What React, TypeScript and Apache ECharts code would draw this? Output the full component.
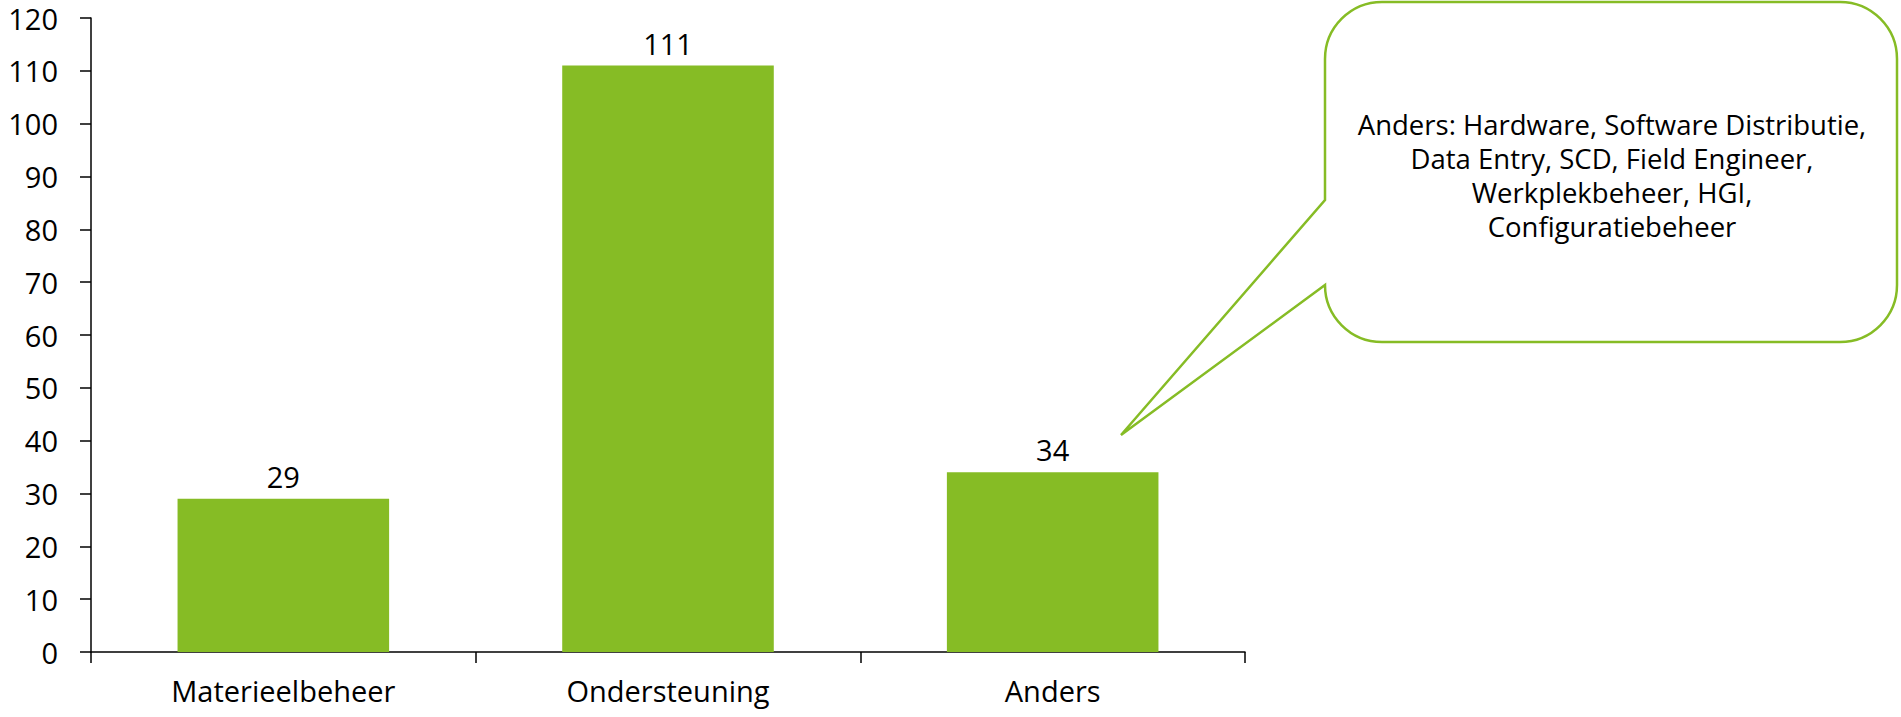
import React, { useEffect, useRef } from "react";
import * as echarts from "echarts";

const categories = ["Materieelbeheer", "Ondersteuning", "Anders"];
const values = [29, 111, 34];
const calloutLines = [
  "Anders: Hardware, Software Distributie,",
  "Data Entry, SCD, Field Engineer,",
  "Werkplekbeheer, HGI,",
  "Configuratiebeheer",
];

const GREEN = "#86BC25";
const FONT = "'Open Sans', 'Noto Sans', sans-serif";

const calloutPath =
  "M 1382 2 L 1840 2 A 57 57 0 0 1 1897 59 L 1897 285 A 57 57 0 0 1 1840 342 L 1382 342 A 57 57 0 0 1 1325 285 L 1121 435 L 1325 200 L 1325 59 A 57 57 0 0 1 1382 2 Z";

let registered = false;

export default function App() {
  const ref = useRef<HTMLDivElement>(null);
  useEffect(() => {
    if (!ref.current) return;
    if (!registered) {
      echarts.graphic.registerShape("callout", echarts.graphic.extendPath(calloutPath, {}));
      registered = true;
    }
    const chart = echarts.init(ref.current, null, { renderer: "svg" });
    chart.setOption({
      animation: false,
      backgroundColor: "#ffffff",
      grid: { left: 91, right: 656, top: 18, bottom: 65, containLabel: false },
      xAxis: {
        type: "category",
        data: categories,
        axisLine: { lineStyle: { color: "#000", width: 1.5 } },
        axisTick: { show: true, length: 11, alignWithLabel: false, lineStyle: { color: "#000", width: 1.5 } },
        axisLabel: { color: "#000", fontSize: 29, fontFamily: FONT, margin: 24 },
      },
      yAxis: {
        type: "value",
        min: 0,
        max: 120,
        interval: 10,
        splitLine: { show: false },
        axisLine: { show: true, lineStyle: { color: "#000", width: 1.5 } },
        axisTick: { show: true, length: 11, lineStyle: { color: "#000", width: 1.5 } },
        axisLabel: { color: "#000", fontSize: 29, fontFamily: FONT, margin: 33 },
      },
      series: [
        {
          type: "bar",
          data: values,
          barCategoryGap: "45%",
          itemStyle: { color: GREEN },
          label: {
            show: true,
            position: "top",
            distance: 8,
            color: "#000",
            fontSize: 29,
            fontFamily: FONT,
          },
        },
      ],
      graphic: [
        {
          type: "callout",
          x: 0,
          y: 0,
          style: { fill: "#fff", stroke: GREEN, lineWidth: 2.5 },
          z: 10,
        },
        {
          type: "text",
          x: 1612,
          y: 175,
          z: 11,
          style: {
            text: calloutLines.join("\n"),
            fill: "#000",
            font: `27.5px ${FONT}`,
            textAlign: "center",
            textVerticalAlign: "middle",
            verticalAlign: "middle",
            lineHeight: 34,
          },
        },
      ],
    });
    return () => chart.dispose();
  }, []);
  return (
    <div
      ref={ref}
      style={{ position: "fixed", left: 0, top: 0, width: 1901, height: 717 }}
    />
  );
}
